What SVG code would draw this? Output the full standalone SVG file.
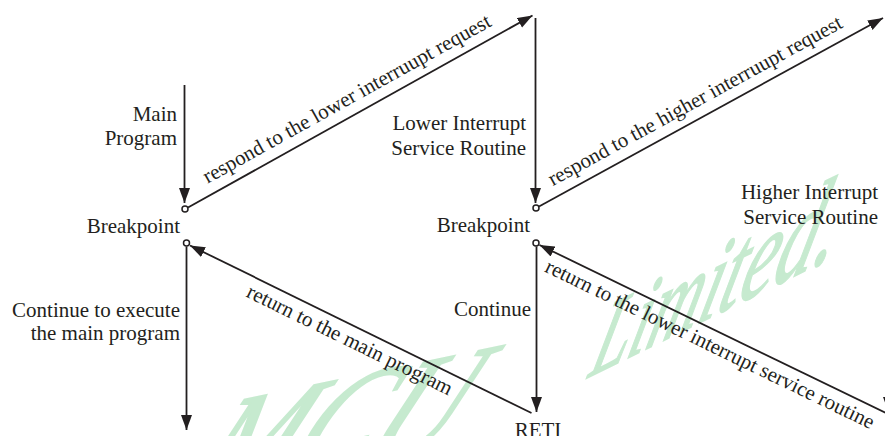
<svg xmlns="http://www.w3.org/2000/svg" width="885" height="436" viewBox="0 0 885 436">
<style>
  text { font-family: "Liberation Serif", "Times New Roman", serif; font-size: 21px; fill: #231f20; }
  .wm { font-style: italic; font-size: 100px; fill: #c6eacf; stroke: #c6eacf; stroke-width: 1.6; }
  .ln { stroke: #231f20; stroke-width: 1.8; fill: none; }
  .arr { marker-end: url(#ah); }
  .dot { fill: #ffffff; stroke: #231f20; stroke-width: 1.5; }
</style>
<defs>
  <marker id="ah" markerUnits="userSpaceOnUse" markerWidth="16" markerHeight="12" refX="15" refY="5.5" orient="auto">
    <path d="M0,0 L15,5.5 L0,11 Z" fill="#231f20"/>
  </marker>
</defs>
<rect width="885" height="436" fill="#ffffff"/>

<g id="watermark">
  <text class="wm" text-anchor="end" transform="matrix(1.2,-0.25,-0.8,1.5,446,445)">MCU</text>
  <text class="wm" transform="matrix(0.726,-0.356,-0.35,1.2,587,378)"><tspan font-size="92">L</tspan><tspan font-size="95">i</tspan><tspan font-size="98">m</tspan><tspan font-size="100">i</tspan><tspan font-size="103">t</tspan><tspan font-size="106">e</tspan><tspan font-size="112">d.</tspan></text>
</g>

<g id="connectors">
  <line class="ln arr" x1="184.5" y1="85" x2="184.5" y2="203"/>
  <line class="ln arr" x1="188" y1="207.5" x2="532.5" y2="15.5"/>
  <line class="ln arr" x1="535.5" y1="18" x2="535.5" y2="203"/>
  <line class="ln arr" x1="539" y1="206.5" x2="883" y2="18"/>
  <line class="ln arr" x1="186.5" y1="246.5" x2="186.5" y2="430"/>
  <line class="ln arr" x1="531.5" y1="413" x2="190" y2="245.5"/>
  <line class="ln arr" x1="536.5" y1="246.5" x2="536.5" y2="412"/>
  <line class="ln arr" x1="890" y1="415" x2="539.5" y2="245"/>
  <line class="ln arr" x1="888.5" y1="20" x2="888.5" y2="412"/>
</g>

<g id="node-main">
  <text text-anchor="end" x="177" y="121">Main</text>
  <text text-anchor="end" x="177" y="145">Program</text>
</g>
<g id="node-breakpoint1">
  <circle class="dot" cx="185" cy="209" r="3"/>
  <circle class="dot" cx="186.5" cy="243" r="3"/>
  <text text-anchor="end" x="180" y="233">Breakpoint</text>
</g>
<g id="node-continue-main">
  <text text-anchor="end" x="180" y="317">Continue to execute</text>
  <text text-anchor="end" x="180" y="340">the main program</text>
</g>
<g id="node-lower-isr">
  <text text-anchor="end" x="526" y="130">Lower Interrupt</text>
  <text text-anchor="end" x="526" y="155">Service Routine</text>
</g>
<g id="node-breakpoint2">
  <circle class="dot" cx="536" cy="208" r="3"/>
  <circle class="dot" cx="536" cy="243" r="3"/>
  <text text-anchor="end" x="530" y="232">Breakpoint</text>
</g>
<g id="node-continue">
  <text text-anchor="end" x="531" y="316">Continue</text>
</g>
<g id="node-reti">
  <text text-anchor="middle" x="538" y="437">RETI</text>
</g>
<g id="node-higher-isr">
  <text text-anchor="end" x="878" y="199">Higher Interrupt</text>
  <text text-anchor="end" x="878" y="224">Service Routine</text>
</g>

<g id="labels">
  <text text-anchor="middle" transform="translate(355.4,114.2) rotate(-29.08)" x="0" y="-11">respond to the lower interruupt request</text>
  <text text-anchor="middle" transform="translate(703.5,116.3) rotate(-28.7)" x="0" y="-11">respond to the higher interruupt request</text>
  <text text-anchor="middle" transform="translate(356.1,327.1) rotate(26.03)" x="0" y="21">return to the main program</text>
  <text text-anchor="middle" transform="translate(716.2,331.3) rotate(25.84)" x="0" y="21">return to the lower interrupt service routine</text>
</g>
</svg>
